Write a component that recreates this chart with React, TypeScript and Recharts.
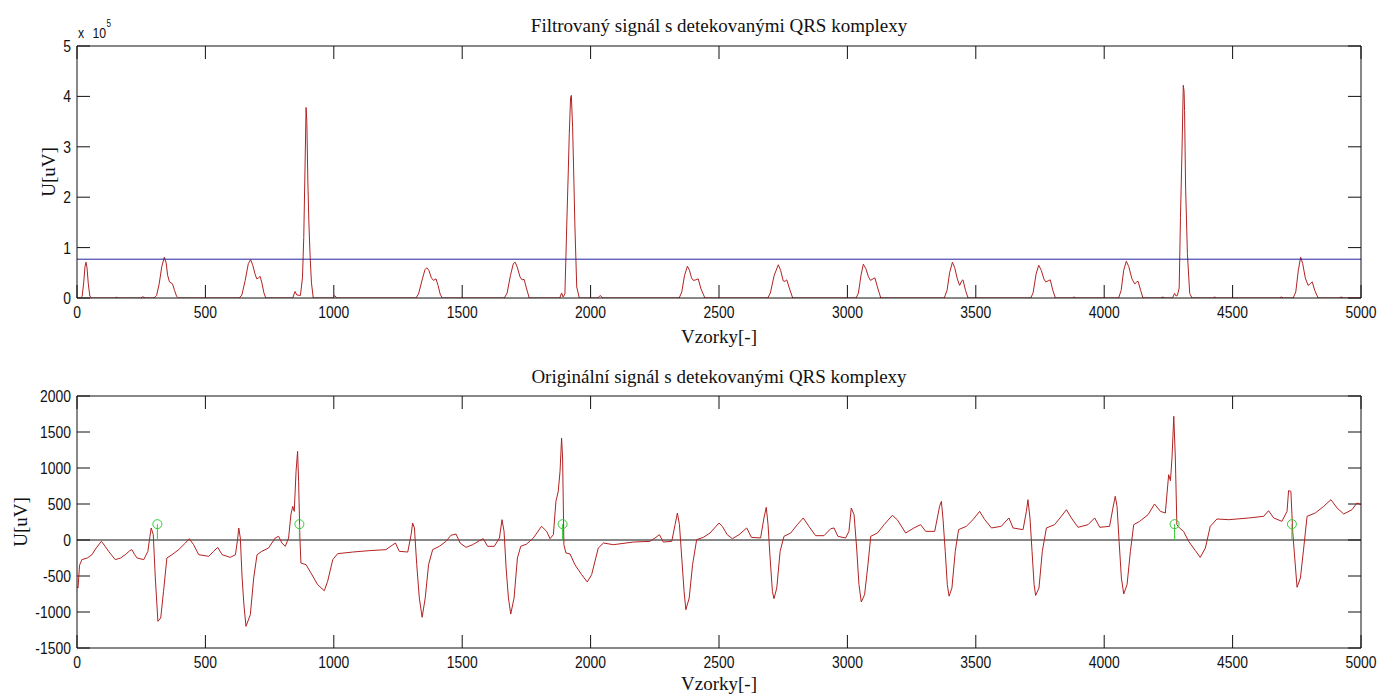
import { ComposedChart, Line, XAxis, YAxis, ReferenceLine, ReferenceDot } from "recharts"

// samples [index, value in uV]
const filtered: [number, number][] = [
  [0, 0], [14, 0], [20, 3000], [26, 30000], [31, 62000], [35, 71000], [39, 60000], [44, 28000], [50, 4000], [56, 0],
  [148, 0], [154, 1500], [160, 0], [248, 0], [256, 2500], [266, 0],
  [300, 0], [310, 5000], [320, 28000], [330, 62000], [340, 81000], [347, 70000], [353, 45000], [360, 32000],
  [366, 30000], [372, 28000], [380, 15000], [388, 3000], [395, 0],
  [632, 0], [642, 6000], [655, 35000], [667, 68000], [676, 76000], [684, 66000], [693, 48000], [700, 38000],
  [707, 40000], [713, 43000], [720, 30000], [728, 10000], [735, 0],
  [840, 0], [849, 13000], [856, 6000], [870, 5000], [878, 40000], [883, 120000], [888, 260000], [892, 378000],
  [895, 350000], [899, 230000], [903, 150000], [908, 80000], [913, 30000], [920, 0],
  [996, 0], [1003, 5000], [1012, 0],
  [1320, 0], [1330, 8000], [1345, 38000], [1355, 56000], [1362, 60000], [1370, 55000], [1380, 40000],
  [1388, 35000], [1398, 38000], [1406, 25000], [1414, 8000], [1422, 0],
  [1664, 0], [1675, 10000], [1688, 45000], [1699, 68000], [1706, 71000], [1714, 62000], [1725, 42000],
  [1733, 36000], [1741, 37000], [1750, 20000], [1761, 0],
  [1880, 0], [1887, 10000], [1893, 2000], [1900, 8000], [1907, 141000], [1913, 250000], [1917, 326000],
  [1922, 398000], [1925, 402000], [1930, 339000], [1935, 230000], [1939, 141000], [1946, 22000], [1956, 0],
  [2028, 0], [2037, 5000], [2048, 0],
  [2345, 0], [2355, 12000], [2366, 45000], [2377, 63000], [2385, 55000], [2393, 40000], [2400, 35000],
  [2410, 36000], [2419, 38000], [2430, 18000], [2445, 0],
  [2690, 0], [2700, 10000], [2715, 45000], [2731, 66000], [2740, 55000], [2750, 34000], [2757, 33000],
  [2764, 36000], [2775, 18000], [2787, 0],
  [3034, 0], [3043, 10000], [3053, 45000], [3062, 67000], [3072, 58000], [3082, 42000], [3090, 35000],
  [3100, 38000], [3107, 40000], [3118, 20000], [3130, 0],
  [3377, 0], [3388, 15000], [3398, 50000], [3409, 71000], [3418, 60000], [3428, 38000], [3437, 25000],
  [3445, 34000], [3450, 36000], [3460, 15000], [3470, 0],
  [3714, 0], [3723, 10000], [3735, 48000], [3745, 65000], [3755, 55000], [3765, 38000], [3772, 32000],
  [3782, 34000], [3790, 36000], [3800, 15000], [3810, 0],
  [3876, 0], [3882, 2000], [3890, 0],
  [4056, 0], [4066, 15000], [4076, 55000], [4086, 73000], [4096, 62000], [4108, 38000], [4119, 28000],
  [4127, 32000], [4132, 33000], [4142, 15000], [4151, 0],
  [4220, 0], [4228, 2000], [4236, 0], [4266, 0], [4274, 9000], [4280, 4000],
  [4285, 5000], [4292, 20000], [4297, 160000], [4303, 293000], [4308, 422000], [4311, 410000], [4313, 372000],
  [4317, 220000], [4324, 88000], [4333, 9000], [4342, 0],
  [4424, 0], [4430, 2000], [4438, 0], [4682, 0], [4690, 2000], [4698, 0],
  [4736, 0], [4746, 12000], [4756, 55000], [4765, 81000], [4773, 68000], [4783, 40000], [4794, 25000],
  [4802, 28000], [4810, 32000], [4820, 15000], [4833, 0],
  [4915, 0], [4923, 2000], [4932, 0], [5000, 0],
]

const threshold = 77000

// original ECG, [index, uV]
const ecg: [number, number][] = [
  [0, -650], [4, -667], [10, -350], [19, -273], [40, -250], [58, -204], [75, -110], [95, -18], [110, -90],
  [123, -157], [149, -273], [170, -250], [188, -204], [205, -150], [214, -134], [224, -200], [234, -250],
  [260, -273], [276, -157], [284, 50], [289, 167], [297, 74], [305, -528], [315, -1130], [326, -1083],
  [337, -713], [350, -250], [370, -204], [396, -134], [422, -42], [437, 18], [454, -65], [474, -204],
  [513, -227], [532, -157], [548, -102], [565, -204], [597, -241], [617, -204], [625, 0], [630, 167],
  [636, 28], [643, -528], [650, -900], [658, -1199], [675, -1037], [688, -528], [701, -204], [720, -157],
  [746, -111], [772, 28], [785, 51], [798, -42], [811, -88], [824, 28], [833, 352], [840, 468], [846, 398],
  [853, 954], [859, 1232], [863, 815], [868, 28], [872, -320], [892, -343], [911, -458], [937, -620],
  [963, -704], [976, -574], [996, -273], [1015, -190], [1074, -167], [1138, -148], [1203, -134],
  [1227, -74], [1240, -42], [1255, -157], [1288, -167], [1301, 74], [1307, 236], [1314, 167], [1323, -343],
  [1333, -806], [1344, -1074], [1356, -806], [1369, -343], [1385, -134], [1411, -88], [1437, -19],
  [1456, 65], [1476, 83], [1492, -42], [1515, -102], [1541, -65], [1567, -9], [1582, 18], [1599, -88],
  [1625, -88], [1645, 28], [1655, 282], [1663, 120], [1671, -389], [1680, -806], [1689, -1028],
  [1702, -806], [1715, -250], [1728, -88], [1751, -56], [1777, 28], [1809, 190], [1829, 120], [1842, 18],
  [1855, 74], [1865, 537], [1874, 676], [1881, 954], [1887, 1417], [1891, 1139], [1896, -65], [1904, -180],
  [1920, -194], [1939, -343], [1965, -481], [1987, -583], [2004, -481], [2030, -111], [2050, -42],
  [2089, -65], [2167, -28], [2231, -19], [2251, 28], [2268, 74], [2283, -28], [2316, -19], [2329, 213],
  [2338, 375], [2346, 213], [2355, -250], [2364, -713], [2371, -968], [2384, -806], [2397, -343],
  [2413, 5], [2439, 37], [2465, 97], [2500, 236], [2513, 190], [2532, 74], [2552, 18], [2578, 74],
  [2608, 167], [2626, 37], [2662, 28], [2675, 306], [2684, 454], [2691, 213], [2699, -250], [2708, -713],
  [2714, -815], [2725, -667], [2738, -157], [2753, 51], [2779, 97], [2805, 213], [2828, 306], [2850, 190],
  [2876, 60], [2909, 60], [2935, 157], [2948, 167], [2963, 51], [2993, 28], [3006, 120], [3015, 444],
  [3026, 352], [3036, -111], [3045, -620], [3054, -861], [3067, -759], [3080, -343], [3091, 51],
  [3117, 97], [3143, 213], [3175, 343], [3194, 282], [3227, 97], [3259, 167], [3285, 213], [3305, 120],
  [3340, 120], [3359, 468], [3366, 537], [3372, 306], [3381, -157], [3389, -620], [3396, -780],
  [3407, -667], [3420, -157], [3433, 144], [3463, 190], [3489, 282], [3515, 398], [3535, 282], [3561, 167],
  [3599, 190], [3629, 306], [3645, 167], [3684, 144], [3697, 398], [3703, 560], [3711, 306], [3719, -157],
  [3727, -620], [3733, -770], [3746, -667], [3759, -157], [3775, 167], [3807, 213], [3833, 329],
  [3853, 421], [3872, 306], [3898, 176], [3937, 213], [3963, 306], [3983, 176], [4021, 190], [4034, 444],
  [4043, 607], [4050, 468], [4058, -19], [4067, -528], [4076, -750], [4089, -620], [4102, -157],
  [4115, 213], [4138, 259], [4171, 352], [4196, 500], [4219, 398], [4238, 375], [4251, 907], [4258, 824],
  [4264, 1139], [4271, 1718], [4277, 1139], [4283, 213], [4293, 167], [4309, 120], [4329, -19],
  [4355, -148], [4374, -241], [4394, -111], [4413, 190], [4439, 292], [4485, 282], [4563, 306],
  [4621, 329], [4640, 407], [4660, 306], [4692, 259], [4712, 398], [4718, 685], [4727, 676], [4734, 120],
  [4742, -250], [4751, -657], [4764, -528], [4777, -111], [4790, 329], [4822, 375], [4855, 468],
  [4883, 560], [4907, 444], [4933, 361], [4965, 421], [4984, 514], [5000, 491],
]

// detected QRS positions and the marker level
const qrsSamples = [313, 866, 1891, 4274, 4731]
const qrsLevel = 220

const xTicks = [0, 500, 1000, 1500, 2000, 2500, 3000, 3500, 4000, 4500, 5000]
const yTicksTop = [0, 100000, 200000, 300000, 400000, 500000]
const yTicksBottom = [-1500, -1000, -500, 0, 500, 1000, 1500, 2000]

const SANS = '"Liberation Sans", Arial, Helvetica, sans-serif'
const SERIF = '"Liberation Serif", "Times New Roman", serif'
const INK = "#111"
const RED = "#b22222"
const GREEN = "#33cc33"
const TICK = 13

const toPoints = (arr: [number, number][]) => arr.map(([x, y]) => ({ x, y }))

// matlab-ish narrow digits
function Narrow({ x, y, anchor, size = 17, children }: any) {
  return (
    <text transform={`translate(${x},${y}) scale(0.82,1)`} textAnchor={anchor} fontFamily={SANS}
      fontSize={size} fill={INK}>
      {children}
    </text>
  )
}

const bottomTick = (fmt: (v: number) => string) => (p: any) => (
  <Narrow x={p.x} y={p.y + 20} anchor="middle">{fmt(p.payload.value)}</Narrow>
)

const leftTick = (fmt: (v: number) => string) => (p: any) => (
  <Narrow x={p.x - 6} y={p.y + 6} anchor="end">{fmt(p.payload.value)}</Narrow>
)

// inward tick marks on both ends of a full-span reference line
function VTickMarks(p: any) {
  const top = Math.min(p.y1, p.y2)
  const bot = Math.max(p.y1, p.y2)
  return (
    <g stroke={INK} strokeWidth={1}>
      <line x1={p.x1} x2={p.x1} y1={bot} y2={bot - TICK} />
      <line x1={p.x1} x2={p.x1} y1={top} y2={top + TICK} />
    </g>
  )
}

function HTickMarks(p: any) {
  const left = Math.min(p.x1, p.x2)
  const right = Math.max(p.x1, p.x2)
  return (
    <g stroke={INK} strokeWidth={1}>
      <line x1={left} x2={left + TICK} y1={p.y1} y2={p.y1} />
      <line x1={right} x2={right - TICK} y1={p.y1} y2={p.y1} />
    </g>
  )
}

export default function App() {
  const filtData = toPoints(filtered)
  const ecgData = toPoints(ecg)
  const plain = (v: number) => String(v)
  const scaled = (v: number) => String(v / 100000)

  const axes = (yDomain: [number, number], yTicks: number[], fmt: (v: number) => string) => [
    <XAxis key="xb" xAxisId="b" type="number" dataKey="x" domain={[0, 5000]} ticks={xTicks} interval={0}
      allowDataOverflow height={30} tickSize={0} tickMargin={0} tickLine={false}
      axisLine={{ stroke: INK }} tick={bottomTick(plain)} />,
    <XAxis key="xt" xAxisId="t" orientation="top" type="number" dataKey="x" domain={[0, 5000]} ticks={xTicks}
      interval={0} allowDataOverflow height={1} tickLine={false} axisLine={{ stroke: INK }} tick={false} />,
    <YAxis key="yl" yAxisId="l" type="number" domain={yDomain} ticks={yTicks} interval={0} allowDataOverflow
      width={60} tickSize={0} tickMargin={0} tickLine={false} axisLine={{ stroke: INK }} tick={leftTick(fmt)} />,
    <YAxis key="yr" yAxisId="r" orientation="right" type="number" domain={yDomain} ticks={yTicks} interval={0}
      allowDataOverflow width={1} tickLine={false} axisLine={{ stroke: INK }} tick={false} />,
    ...xTicks.map((t) => (
      <ReferenceLine key={`vt-${t}`} xAxisId="b" yAxisId="l" x={t} stroke={INK} shape={VTickMarks} />
    )),
    ...yTicks.map((t) => (
      <ReferenceLine key={`ht-${t}`} xAxisId="b" yAxisId="l" y={t} stroke={INK} shape={HTickMarks} />
    )),
  ]

  return (
    <div style={{ position: "absolute", left: 0, top: 0, width: 1378, height: 695, background: "#fff" }}>
      <div style={{ position: "absolute", left: 0, top: 0 }}>
        <ComposedChart width={1378} height={340} margin={{ top: 45, right: 16, bottom: 12, left: 17 }}>
          {axes([0, 500000], yTicksTop, scaled)}
          {/* keeps the mirrored top/right axes alive */}
          <Line xAxisId="t" yAxisId="r" data={filtData} dataKey="y" stroke="none" dot={false} activeDot={false}
            isAnimationActive={false} />
          <Line xAxisId="b" yAxisId="l" data={filtData} dataKey="y" type="linear" stroke={RED} strokeWidth={1}
            dot={false} activeDot={false} isAnimationActive={false} />
          <ReferenceLine xAxisId="b" yAxisId="l" y={threshold} stroke="#2424a0" strokeWidth={1} />
        </ComposedChart>
      </div>
      <div style={{ position: "absolute", left: 0, top: 350 }}>
        <ComposedChart width={1378} height={345} margin={{ top: 45, right: 16, bottom: 17, left: 17 }}>
          {axes([-1500, 2000], yTicksBottom, plain)}
          <Line xAxisId="t" yAxisId="r" data={ecgData} dataKey="y" stroke="none" dot={false} activeDot={false}
            isAnimationActive={false} />
          <ReferenceLine xAxisId="b" yAxisId="l" y={0} stroke={INK} strokeWidth={1} />
          <Line xAxisId="b" yAxisId="l" data={ecgData} dataKey="y" type="linear" stroke={RED} strokeWidth={1}
            dot={false} activeDot={false} isAnimationActive={false} />
          {qrsSamples.map((s) => (
            <ReferenceLine key={`stem-${s}`} xAxisId="b" yAxisId="l" stroke={GREEN} strokeWidth={1}
              segment={[{ x: s, y: 0 }, { x: s, y: qrsLevel }]} />
          ))}
          {qrsSamples.map((s) => (
            <ReferenceDot key={`dot-${s}`} xAxisId="b" yAxisId="l" x={s} y={qrsLevel} r={4.5} fill="none"
              stroke={GREEN} strokeWidth={1} />
          ))}
        </ComposedChart>
      </div>
      <svg width={1378} height={695} style={{ position: "absolute", left: 0, top: 0, pointerEvents: "none" }}>
        <g fontFamily={SERIF} fontSize={19} fill={INK} textAnchor="middle">
          <text x={719} y={31.5}>Filtrovaný signál s detekovanými QRS komplexy</text>
          <text x={719} y={343}>Vzorky[-]</text>
          <text transform="translate(55,172) rotate(-90)">U[uV]</text>
          <text x={719} y={382.5}>Originální signál s detekovanými QRS komplexy</text>
          <text x={719} y={690}>Vzorky[-]</text>
          <text transform="translate(27,522) rotate(-90)">U[uV]</text>
        </g>
        <Narrow x={78} y={38} size={15}>x</Narrow>
        <Narrow x={92.5} y={38} size={15}>10</Narrow>
        <Narrow x={106.5} y={26.5} size={10}>5</Narrow>
      </svg>
    </div>
  )
}
